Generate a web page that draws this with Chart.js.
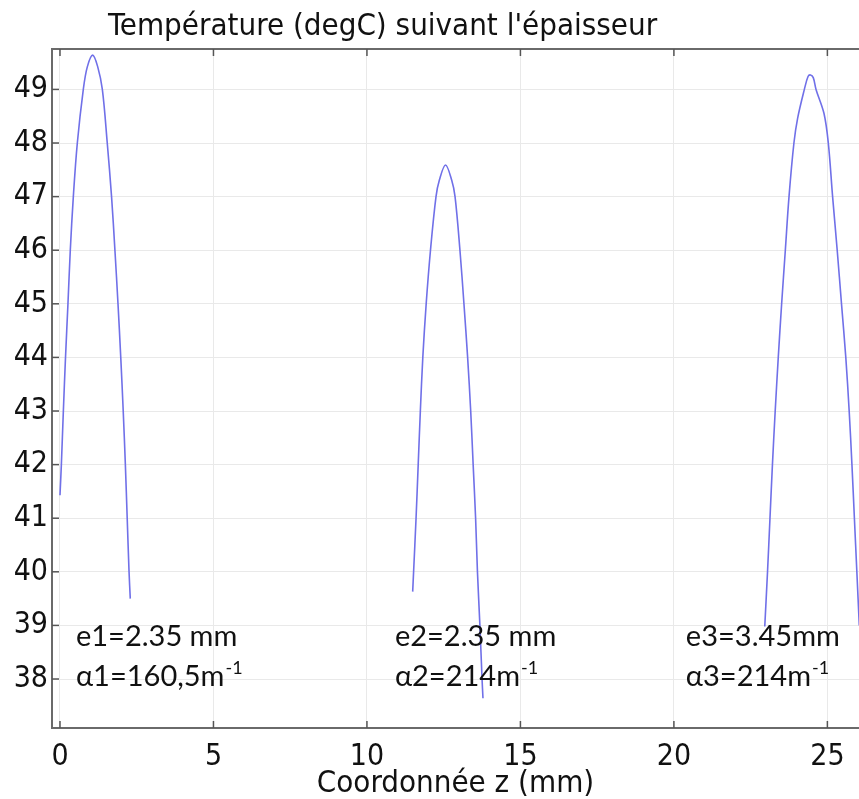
<!DOCTYPE html>
<html>
<head>
<meta charset="utf-8">
<script src="https://cdn.jsdelivr.net/npm/chart.js@4/dist/chart.umd.min.js"></script>
<style>
  html, body { margin: 0; padding: 0; background: #fff; }
  #wrap { width: 859px; height: 799px; }
</style>
</head>
<body>
<div id="wrap"><canvas id="myChart" width="859" height="799"></canvas></div>
<script>
// couche 1 : coordonnée z (mm) et température (degC)
const z1 = [0.00, 0.045, 0.11, 0.18, 0.26, 0.336, 0.435, 0.565, 0.76, 0.89, 1.065, 1.23, 1.38, 1.54, 1.68, 1.79, 1.89, 1.98, 2.06, 2.13, 2.19, 2.25, 2.29];
const t1 = [41.43, 42.0, 43.0, 44.0, 45.0, 46.0, 47.0, 48.0, 49.0, 49.42, 49.64, 49.42, 49.0, 48.0, 47.0, 46.0, 45.0, 44.0, 43.0, 42.0, 41.0, 40.0, 39.5];

// couche 2
const z2 = [11.49, 11.52, 11.60, 11.67, 11.74, 11.82, 11.93, 12.07, 12.25, 12.36, 12.56, 12.76, 12.87, 13.03, 13.16, 13.28, 13.38, 13.46, 13.54, 13.60, 13.68, 13.75, 13.78];
const t2 = [39.63, 40.0, 41.0, 42.0, 43.0, 44.0, 45.0, 46.0, 47.0, 47.31, 47.59, 47.31, 47.0, 46.0, 45.0, 44.0, 43.0, 42.0, 41.0, 40.0, 39.0, 38.0, 37.64];

// couche 3
const z3 = [22.96, 23.05, 23.13, 23.21, 23.30, 23.40, 23.51, 23.63, 23.75, 23.91, 24.03, 24.25, 24.37, 24.45, 24.54, 24.63, 24.89, 25.03, 25.17, 25.32, 25.46, 25.60, 25.71, 25.80, 25.88, 25.96, 26.04];
const t3 = [38.98, 40.0, 41.0, 42.0, 43.0, 44.0, 45.0, 46.0, 47.0, 48.0, 48.46, 49.0, 49.24, 49.27, 49.22, 49.0, 48.55, 48.0, 47.0, 46.0, 45.0, 44.0, 43.0, 42.0, 41.0, 40.0, 39.0];

// annotations (texte, z, T)
const notes = [
  { txt: 'e1=2.35 mm', z: 0.52, t: 38.62 },
  { txt: 'α1=160,5m', sup: '-1', z: 0.52, t: 37.87 },
  { txt: 'e2=2.35 mm', z: 10.91, t: 38.62 },
  { txt: 'α2=214m', sup: '-1', z: 10.91, t: 37.87 },
  { txt: 'e3=3.45mm', z: 20.39, t: 38.62 },
  { txt: 'α3=214m', sup: '-1', z: 20.39, t: 37.87 }
];

const titre = "Température (degC) suivant l'épaisseur";
const fontAxe = '"DejaVu Sans Condensed", "DejaVu Sans", sans-serif';
const fontNote = 'Lato, "Open Sans", sans-serif';
const lineColor = 'rgb(112,112,232)';

function pts(xs, ys) {
  return xs.map((x, i) => ({ x: x, y: ys[i] }));
}

// cadre, petits traits vers l'intérieur, titre et annotations
const decor = {
  id: 'decor',
  afterDraw(chart) {
    const c = chart.ctx;
    const a = chart.chartArea;
    const xs = chart.scales.x;
    const ys = chart.scales.y;
    c.save();
    c.strokeStyle = '#6a6a6a';
    c.lineWidth = 2;
    c.beginPath();
    c.moveTo(a.left, a.top);
    c.lineTo(a.right, a.top);
    c.stroke();
    c.lineWidth = 1.5;
    c.strokeStyle = '#555';
    xs.ticks.forEach(tk => {
      const px = xs.getPixelForValue(tk.value);
      c.beginPath();
      c.moveTo(px, a.bottom);
      c.lineTo(px, a.bottom - 7);
      c.moveTo(px, a.top);
      c.lineTo(px, a.top + 7);
      c.stroke();
    });
    ys.ticks.forEach(tk => {
      const py = ys.getPixelForValue(tk.value);
      c.beginPath();
      c.moveTo(a.left, py);
      c.lineTo(a.left + 7, py);
      c.stroke();
    });

    c.fillStyle = '#111';
    c.font = '31px ' + fontAxe;
    c.textBaseline = 'alphabetic';
    c.textAlign = 'left';
    c.fillText(titre, 108, 35);

    notes.forEach(n => {
      const px = xs.getPixelForValue(n.z);
      const py = ys.getPixelForValue(n.t);
      c.font = '29px ' + fontNote;
      c.fillText(n.txt, px, py);
      if (n.sup) {
        const w = c.measureText(n.txt).width;
        c.font = '18px ' + fontNote;
        c.fillText(n.sup, px + w + 1, py - 12);
      }
    });
    c.restore();
  }
};

const ctx = document.getElementById('myChart');
new Chart(ctx, {
  type: 'line',
  data: {
    datasets: [
      { label: 'e1', data: pts(z1, t1) },
      { label: 'e2', data: pts(z2, t2) },
      { label: 'e3', data: pts(z3, t3) }
    ].map(d => Object.assign(d, {
      borderColor: lineColor,
      borderWidth: 1.6,
      pointRadius: 0,
      fill: false,
      tension: 0.35
    }))
  },
  options: {
    responsive: false,
    animation: false,
    layout: { padding: { top: 49, left: 0, right: 0, bottom: 0 } },
    plugins: {
      legend: { display: false },
      title: { display: false },
      tooltip: { enabled: false }
    },
    scales: {
      x: {
        type: 'linear',
        min: -0.26,
        max: 26.03,
        afterFit: s => { s.height = 71; },
        grid: { color: '#e9e9e9', lineWidth: 1, drawTicks: false },
        border: { display: true, color: '#6a6a6a', width: 2 },
        ticks: {
          stepSize: 5,
          includeBounds: false,
          padding: 11,
          color: '#111',
          font: { family: fontAxe, size: 30 },
          maxRotation: 0
        },
        title: {
          display: true,
          text: 'Coordonnée z (mm)',
          color: '#111',
          font: { family: fontAxe, size: 31, lineHeight: 1.0 },
          padding: { top: 0, bottom: 0 }
        }
      },
      y: {
        min: 37.086,
        max: 49.754,
        afterFit: s => { s.width = 52; },
        grid: { color: '#e9e9e9', lineWidth: 1, drawTicks: false },
        border: { display: true, color: '#6a6a6a', width: 2 },
        ticks: {
          stepSize: 1,
          includeBounds: false,
          padding: 4,
          color: '#111',
          font: { family: fontAxe, size: 30 }
        }
      }
    }
  },
  plugins: [decor]
});
</script>
</body>
</html>
